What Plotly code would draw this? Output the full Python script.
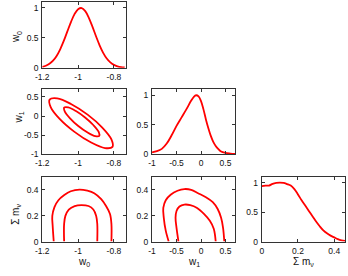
import plotly.graph_objects as go

# ---- data ----
w0_grid = [-1.20, -1.18, -1.16, -1.14, -1.12, -1.10, -1.08, -1.06, -1.04, -1.02, -1.00, -0.98,
           -0.96, -0.94, -0.92, -0.90, -0.88, -0.86, -0.84, -0.82, -0.80, -0.78, -0.76, -0.74]
w0_pdf = [0.016, 0.034, 0.066, 0.118, 0.198, 0.309, 0.448, 0.607, 0.764, 0.897, 0.980, 0.998,
          0.946, 0.835, 0.687, 0.526, 0.375, 0.249, 0.154, 0.089, 0.048, 0.024, 0.011, 0.005]

w1_grid = [-1.0, -0.9, -0.8, -0.7, -0.6, -0.5, -0.4, -0.3, -0.2, -0.15, -0.1, -0.05, 0.0,
           0.05, 0.1, 0.15, 0.2, 0.25, 0.3, 0.35, 0.4, 0.5, 0.6, 0.7]
w1_pdf = [0.03, 0.05, 0.09, 0.18, 0.32, 0.48, 0.62, 0.76, 0.91, 0.97, 1.0, 0.98, 0.90,
          0.76, 0.59, 0.44, 0.31, 0.21, 0.14, 0.09, 0.05, 0.02, 0.01, 0.005]

mnu_grid = [0.00, 0.02, 0.04, 0.06, 0.08, 0.10, 0.12, 0.14, 0.16, 0.18, 0.20, 0.22, 0.24,
            0.26, 0.28, 0.30, 0.32, 0.34, 0.36, 0.38, 0.40, 0.42, 0.44, 0.46]
mnu_pdf = [0.94, 0.95, 0.95, 0.98, 0.995, 1.0, 0.995, 0.975, 0.95, 0.89, 0.80, 0.70, 0.61,
           0.52, 0.43, 0.34, 0.26, 0.19, 0.14, 0.10, 0.07, 0.04, 0.02, 0.01]

# w1 vs w0 contours (closed: last point repeats the first)
c_w0w1_outer_x = [-0.808, -0.850, -0.927, -1.020, -1.103, -1.153, -1.159, -1.117, -1.040, -0.947, -0.865, -0.814, -0.808]
c_w0w1_outer_y = [-0.810, -0.840, -0.696, -0.416, -0.075, 0.235, 0.431, 0.462, 0.317, 0.037, -0.303, -0.613, -0.810]
c_w0w1_inner_x = [-0.882, -0.904, -0.947, -0.999, -1.045, -1.074, -1.078, -1.055, -1.012, -0.961, -0.914, -0.885, -0.882]
c_w0w1_inner_y = [-0.523, -0.529, -0.432, -0.261, -0.059, 0.117, 0.222, 0.228, 0.131, -0.040, -0.242, -0.418, -0.523]

# sum m_nu vs w0 contours (open arches)
c_w0m_outer_x = [-1.136, -1.142, -1.144, -1.132, -1.110, -1.079, -1.041, -0.992, -0.948, -0.910, -0.871, -0.844, -0.822, -0.814, -0.814]
c_w0m_outer_y = [0.0, 0.122, 0.198, 0.266, 0.319, 0.357, 0.388, 0.401, 0.392, 0.373, 0.327, 0.274, 0.213, 0.137, 0.0]
c_w0m_inner_x = [-1.078, -1.078, -1.071, -1.052, -1.019, -0.981, -0.942, -0.915, -0.899, -0.893, -0.893]
c_w0m_inner_y = [0.0, 0.137, 0.198, 0.247, 0.274, 0.281, 0.274, 0.247, 0.198, 0.137, 0.0]

# sum m_nu vs w1 contours (open arches)
c_w1m_outer_x = [-0.66, -0.72, -0.76, -0.77, -0.72, -0.62, -0.48, -0.34, -0.20, -0.06, 0.10, 0.24, 0.34, 0.41, 0.45, 0.475]
c_w1m_outer_y = [0.0, 0.084, 0.183, 0.259, 0.319, 0.361, 0.392, 0.405, 0.399, 0.373, 0.342, 0.304, 0.251, 0.183, 0.106, 0.0]
c_w1m_inner_x = [-0.46, -0.50, -0.52, -0.50, -0.44, -0.34, -0.22, -0.08, 0.06, 0.18, 0.26, 0.30]
c_w1m_inner_y = [0.0, 0.106, 0.183, 0.236, 0.270, 0.285, 0.281, 0.259, 0.213, 0.160, 0.099, 0.0]

w0_ticks = [-1.2, -1.0, -0.8]
w0_ticktext = ["-1.2", "-1", "-0.8"]
w1_ticks = [-1.0, -0.5, 0.0, 0.5]
w1_ticktext = ["-1", "-0.5", "0", "0.5"]
mnu_ticks = [0.0, 0.2, 0.4]
mnu_ticktext = ["0", "0.2", "0.4"]
pdf_ticks = [0.0, 0.5, 1.0]
pdf_ticktext = ["0", "0.5", "1"]

W, H = 348, 276
RED = "#ff0000"
LW = 1.8

fig = go.Figure()

def add_line(x, y, n):
    fig.add_trace(go.Scatter(
        x=x, y=y, mode="lines",
        line=dict(color=RED, width=LW, shape="spline", smoothing=1.0),
        xaxis="x" if n == 1 else f"x{n}", yaxis="y" if n == 1 else f"y{n}",
        showlegend=False, hoverinfo="skip"))

add_line(w0_grid, w0_pdf, 1)
add_line(c_w0w1_outer_x, c_w0w1_outer_y, 2)
add_line(c_w0w1_inner_x, c_w0w1_inner_y, 2)
add_line(w1_grid, w1_pdf, 3)
add_line(c_w0m_outer_x, c_w0m_outer_y, 4)
add_line(c_w0m_inner_x, c_w0m_inner_y, 4)
add_line(c_w1m_outer_x, c_w1m_outer_y, 5)
add_line(c_w1m_inner_x, c_w1m_inner_y, 5)
add_line(mnu_grid, mnu_pdf, 6)

def px_x(a, b):
    return [a / W, b / W]

def px_y(top, bot):
    return [1 - bot / H, 1 - top / H]

cols = [px_x(36, 121), px_x(148, 233), px_x(260, 345)]
rows = [px_y(2, 69), px_y(91, 157), px_y(180, 246)]

FONT = dict(family="Liberation Sans, Arial, sans-serif", size=8.5, color="#111")
axis_common = dict(showgrid=False, zeroline=False, showline=True, linecolor="#333",
                   linewidth=1, mirror="ticks", ticks="inside", ticklen=3,
                   tickcolor="#333", tickwidth=0.8, tickfont=FONT, fixedrange=True)

panels = [
    (1, 0, 0, [-1.2, -0.735], w0_ticks, w0_ticktext, [0, 1.1], pdf_ticks, pdf_ticktext),
    (2, 0, 1, [-1.2, -0.735], w0_ticks, w0_ticktext, [-1.0, 0.7], w1_ticks, w1_ticktext),
    (3, 1, 1, [-1.0, 0.7], w1_ticks, w1_ticktext, [0, 1.1], pdf_ticks, pdf_ticktext),
    (4, 0, 2, [-1.2, -0.735], w0_ticks, w0_ticktext, [0, 0.5], mnu_ticks, mnu_ticktext),
    (5, 1, 2, [-1.0, 0.7], w1_ticks, w1_ticktext, [0, 0.5], mnu_ticks, mnu_ticktext),
    (6, 2, 2, [0, 0.46], mnu_ticks, mnu_ticktext, [0, 1.1], pdf_ticks, pdf_ticktext),
]

lay = {}
for n, c, r, xr, xt, xtt, yr, yt, ytt in panels:
    xk = "xaxis" if n == 1 else f"xaxis{n}"
    yk = "yaxis" if n == 1 else f"yaxis{n}"
    xa = "x" if n == 1 else f"x{n}"
    ya = "y" if n == 1 else f"y{n}"
    lay[xk] = dict(axis_common, domain=cols[c], range=xr, tickvals=xt, ticktext=xtt,
                   anchor=ya, ticklabelstandoff=1)
    lay[yk] = dict(axis_common, domain=rows[r], range=yr, tickvals=yt, ticktext=ytt,
                   anchor=xa, ticklabelstandoff=1)

TFONT = dict(family="Liberation Sans, Arial, sans-serif", size=10, color="#111")
ann = [
    dict(text="w<sub>0</sub>", x=10 / W, y=1 - 38 / H, textangle=-90),
    dict(text="w<sub>1</sub>", x=12 / W, y=1 - 120 / H, textangle=-90),
    dict(text="Σ m<sub>ν</sub>", x=9 / W, y=1 - 218 / H, textangle=-90),
    dict(text="w<sub>0</sub>", x=79 / W, y=1 - 267 / H),
    dict(text="w<sub>1</sub>", x=191 / W, y=1 - 267 / H),
    dict(text="Σ m<sub>ν</sub>", x=303 / W, y=1 - 267 / H),
]
annotations = [dict(a, xref="paper", yref="paper", showarrow=False, font=TFONT,
                    xanchor="center", yanchor="middle") for a in ann]

fig.update_layout(width=W, height=H, margin=dict(l=0, r=0, t=0, b=0),
                  paper_bgcolor="white", plot_bgcolor="white",
                  annotations=annotations, showlegend=False, **lay)

fig.write_html("out.html", config={"displayModeBar": False},
               post_script="document.body.style.margin='0';document.body.style.padding='0';document.body.style.overflow='hidden';")
